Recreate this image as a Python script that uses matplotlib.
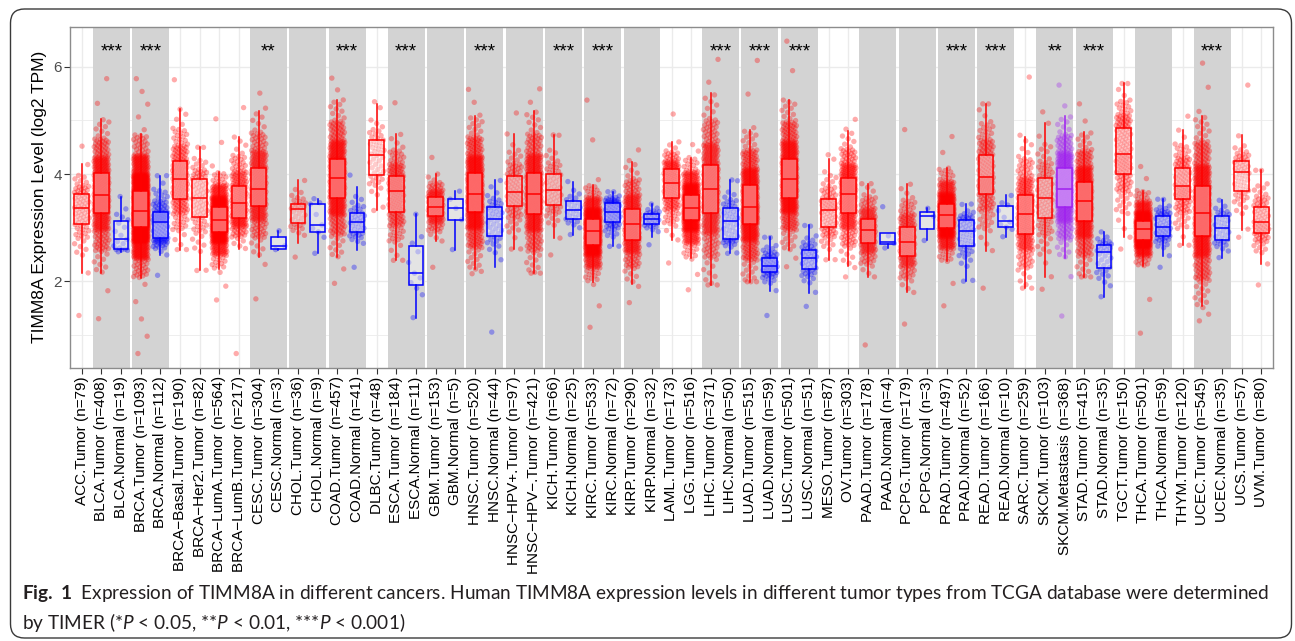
import numpy as np
import matplotlib
matplotlib.use('Agg')
import matplotlib.pyplot as plt
from matplotlib import font_manager
from matplotlib.patches import FancyBboxPatch, Rectangle
from matplotlib.transforms import IdentityTransform

# TIMM8A expression per TCGA group (log2 TPM)
groups = ['ACC.Tumor', 'BLCA.Tumor', 'BLCA.Normal', 'BRCA.Tumor', 'BRCA.Normal',
          'BRCA−Basal.Tumor', 'BRCA−Her2.Tumor', 'BRCA−LumA.Tumor', 'BRCA−LumB.Tumor',
          'CESC.Tumor', 'CESC.Normal', 'CHOL.Tumor', 'CHOL.Normal', 'COAD.Tumor',
          'COAD.Normal', 'DLBC.Tumor', 'ESCA.Tumor', 'ESCA.Normal', 'GBM.Tumor',
          'GBM.Normal', 'HNSC.Tumor', 'HNSC.Normal', 'HNSC−HPV+.Tumor', 'HNSC−HPV−.Tumor',
          'KICH.Tumor', 'KICH.Normal', 'KIRC.Tumor', 'KIRC.Normal', 'KIRP.Tumor',
          'KIRP.Normal', 'LAML.Tumor', 'LGG.Tumor', 'LIHC.Tumor', 'LIHC.Normal',
          'LUAD.Tumor', 'LUAD.Normal', 'LUSC.Tumor', 'LUSC.Normal', 'MESO.Tumor',
          'OV.Tumor', 'PAAD.Tumor', 'PAAD.Normal', 'PCPG.Tumor', 'PCPG.Normal',
          'PRAD.Tumor', 'PRAD.Normal', 'READ.Tumor', 'READ.Normal', 'SARC.Tumor',
          'SKCM.Tumor', 'SKCM.Metastasis', 'STAD.Tumor', 'STAD.Normal', 'TGCT.Tumor',
          'THCA.Tumor', 'THCA.Normal', 'THYM.Tumor', 'UCEC.Tumor', 'UCEC.Normal',
          'UCS.Tumor', 'UVM.Tumor']
n_samples = [79, 408, 19, 1093, 112, 190, 82, 564, 217, 304, 3, 36, 9, 457, 41, 48,
             184, 11, 153, 5, 520, 44, 97, 421, 66, 25, 533, 72, 290, 32, 173, 516,
             371, 50, 515, 59, 501, 51, 87, 303, 178, 4, 179, 3, 497, 52, 166, 10,
             259, 103, 368, 415, 35, 150, 501, 59, 120, 545, 35, 57, 80]

lowest = [1.36, 1.30, 2.55, 0.65, 2.11, 2.59, 2.20, 1.65, 0.65, 1.67, 2.59, 2.45, 2.52,
          1.96, 2.26, 3.32, 2.39, 1.32, 2.26, 2.59, 2.14, 1.05, 2.60, 2.15, 2.49, 2.87,
          1.14, 2.65, 1.60, 2.68, 2.34, 1.84, 1.93, 2.52, 1.99, 1.36, 2.27, 1.53, 2.40,
          2.08, 0.81, 2.62, 1.20, 2.76, 1.54, 2.00, 1.87, 2.83, 1.87, 1.85, 1.35, 2.08,
          1.71, 2.60, 1.03, 2.26, 2.67, 1.26, 2.44, 2.82, 1.93]
whislo = [2.15, 2.15, 2.55, 2.06, 2.49, 2.59, 2.20, 2.23, 2.61, 2.45, 2.59, 2.72, 2.52,
          2.45, 2.59, 3.32, 2.39, 1.32, 2.75, 2.59, 2.23, 2.26, 2.60, 2.15, 2.80, 2.87,
          1.99, 2.65, 1.95, 2.83, 2.77, 2.43, 1.93, 2.52, 1.99, 1.82, 2.59, 1.78, 2.40,
          2.29, 2.08, 2.62, 1.79, 2.76, 2.37, 2.00, 2.57, 2.83, 1.87, 2.08, 2.43, 2.08,
          1.71, 2.82, 2.29, 2.47, 2.67, 1.53, 2.44, 2.96, 2.32]
q1 = [3.07, 3.28, 2.60, 3.02, 2.81, 3.54, 3.20, 2.92, 3.18, 3.41, 2.61, 3.08, 2.92,
      3.56, 2.91, 3.98, 3.30, 1.93, 3.22, 3.15, 3.29, 2.85, 3.41, 3.26, 3.43, 3.16,
      2.68, 3.11, 2.77, 3.07, 3.56, 3.15, 3.28, 2.79, 3.07, 2.17, 3.56, 2.22, 3.01,
      3.27, 2.71, 2.69, 2.47, 2.98, 3.00, 2.65, 3.63, 3.02, 2.88, 3.18, 3.38, 3.12,
      2.24, 4.01, 2.77, 2.85, 3.53, 2.85, 2.76, 3.69, 2.90]
median = [3.36, 3.61, 2.78, 3.31, 3.10, 3.91, 3.55, 3.15, 3.46, 3.73, 2.66, 3.34, 3.05,
          3.93, 3.11, 4.36, 3.68, 2.15, 3.39, 3.36, 3.63, 3.17, 3.67, 3.63, 3.70, 3.32,
          2.93, 3.29, 3.07, 3.16, 3.84, 3.36, 3.73, 3.13, 3.38, 2.29, 3.91, 2.43, 3.32,
          3.63, 2.96, 2.74, 2.73, 3.21, 3.23, 2.93, 3.94, 3.13, 3.26, 3.56, 3.73, 3.49,
          2.54, 4.37, 2.97, 3.01, 3.78, 3.28, 3.00, 4.04, 3.10]
q3 = [3.62, 4.02, 3.12, 3.68, 3.29, 4.25, 3.91, 3.38, 3.78, 4.12, 2.82, 3.44, 3.44,
      4.29, 3.27, 4.64, 3.96, 2.65, 3.57, 3.53, 4.02, 3.38, 3.97, 4.02, 4.00, 3.49,
      3.16, 3.46, 3.35, 3.25, 4.09, 3.61, 4.17, 3.37, 3.79, 2.44, 4.28, 2.59, 3.53,
      3.92, 3.17, 2.90, 3.02, 3.29, 3.44, 3.14, 4.36, 3.41, 3.61, 3.92, 4.11, 3.86,
      2.67, 4.86, 3.13, 3.22, 4.11, 3.77, 3.22, 4.25, 3.38]
whishi = [4.18, 5.03, 3.58, 4.74, 3.97, 5.21, 4.50, 4.04, 4.69, 5.17, 2.94, 3.88, 3.54,
          5.39, 3.76, 5.30, 4.74, 3.25, 4.00, 3.68, 5.08, 3.88, 4.75, 5.17, 4.73, 3.86,
          3.80, 3.67, 4.22, 3.44, 4.60, 4.30, 5.51, 3.89, 4.83, 2.82, 5.38, 3.04, 4.28,
          4.80, 3.82, 2.90, 3.81, 3.36, 4.11, 3.44, 5.31, 3.60, 4.69, 4.95, 5.09, 4.78,
          2.92, 5.69, 3.69, 3.53, 4.82, 5.09, 3.51, 4.72, 4.07]
highest = [4.52, 5.78, 3.58, 5.78, 3.97, 5.76, 4.50, 5.03, 5.24, 5.51, 2.94, 3.88, 3.54,
           5.79, 3.98, 5.35, 5.33, 3.25, 4.31, 3.68, 5.58, 3.88, 5.14, 5.59, 4.73, 3.86,
           5.38, 3.67, 4.45, 3.44, 5.12, 4.55, 6.14, 3.89, 6.12, 2.82, 6.48, 3.04, 4.36,
           5.02, 3.82, 3.39, 4.83, 3.36, 4.70, 3.44, 5.31, 3.60, 5.81, 5.16, 5.66, 5.31,
           2.92, 5.69, 4.14, 3.53, 5.08, 6.07, 3.51, 5.66, 4.07]

# tumor/normal pairs that get a grey band, and their significance marks
band_start = ['BLCA.Tumor', 'BRCA.Tumor', 'CESC.Tumor', 'CHOL.Tumor', 'COAD.Tumor',
              'ESCA.Tumor', 'GBM.Tumor', 'HNSC.Tumor', 'HNSC−HPV+.Tumor', 'KICH.Tumor',
              'KIRC.Tumor', 'KIRP.Tumor', 'LIHC.Tumor', 'LUAD.Tumor', 'LUSC.Tumor',
              'PAAD.Tumor', 'PCPG.Tumor', 'PRAD.Tumor', 'READ.Tumor', 'SKCM.Tumor',
              'STAD.Tumor', 'THCA.Tumor', 'UCEC.Tumor']
signif_pair = ['BLCA', 'BRCA', 'CESC', 'COAD', 'ESCA', 'HNSC', 'KICH', 'KIRC', 'LIHC',
               'LUAD', 'LUSC', 'PRAD', 'READ', 'SKCM', 'STAD', 'UCEC']
signif_mark = ['***', '***', '**', '***', '***', '***', '***', '***', '***',
               '***', '***', '***', '***', '**', '***', '***']

type_colors = {'Tumor': '#FF0000', 'Normal': '#0000FF', 'Metastasis': '#A020F0'}

font_names = {f.name for f in font_manager.fontManager.ttflist}
cap_font = 'Lato' if 'Lato' in font_names else 'Liberation Sans'
plt.rcParams['font.family'] = ['Liberation Sans', 'DejaVu Sans']
plt.rcParams['mathtext.fontset'] = 'custom'
plt.rcParams['mathtext.rm'] = cap_font
plt.rcParams['mathtext.it'] = cap_font + ':italic'
plt.rcParams['mathtext.bf'] = cap_font + ':bold'

W, H = 1295, 641
fig = plt.figure(figsize=(W / 100, H / 100), dpi=100)
ax = fig.add_axes([70 / W, 1 - 368 / H, 1203 / W, 341.3 / H])

# grid first, bands over it
ax.set_xlim(0.4, 61.6)
ax.set_ylim(0.38, 6.75)
ax.set_yticks([2, 4, 6])
ax.set_yticks([1, 3, 5], minor=True)
ax.set_xticks(np.arange(1, 62))
ax.grid(True, which='major', color='#EBEBEB', lw=1.0, zorder=0)
ax.grid(True, which='minor', axis='y', color='#EBEBEB', lw=0.6, zorder=0)
ax.set_axisbelow(True)

for g in band_start:
    i = groups.index(g) + 1
    ax.add_patch(Rectangle((i - 0.44, 0.38), 1.88, 6.37, facecolor='#D3D3D3',
                           edgecolor='none', zorder=0.8))


def sample_values(k):
    # spread n values over the quantiles of the box summary, thinning toward the whiskers
    n = n_samples[k]
    t = min(max(1.0 / n, 0.004), 0.02)
    a_lo = q1[k] - whislo[k]
    a_hi = whishi[k] - q3[k]
    kp = [0, t, 0.025, 0.10, 0.25, 0.5, 0.75, 0.90, 0.975, 1 - t, 1]
    kv = [lowest[k], whislo[k], q1[k] - 0.635 * a_lo, q1[k] - 0.30 * a_lo, q1[k],
          median[k], q3[k], q3[k] + 0.30 * a_hi, q3[k] + 0.635 * a_hi, whishi[k],
          highest[k]]
    return np.interp(np.linspace(0, 1, n), kp, kv)


golden = 0.6180339887
for k, g in enumerate(groups):
    pos = k + 1
    col = type_colors[g.split('.')[1]]
    n = n_samples[k]
    y = sample_values(k)
    x = pos + (np.modf(np.arange(n) * golden + 0.31)[0] - 0.5) * 0.76
    ax.scatter(x, y, s=15, color=col, alpha=0.33, edgecolors='none', zorder=2)

    stats = [dict(med=median[k], q1=q1[k], q3=q3[k], whislo=whislo[k],
                  whishi=whishi[k], fliers=[])]
    ax.bxp(stats, positions=[pos], widths=0.75, patch_artist=True,
           showfliers=False, showcaps=False, manage_ticks=False,
           boxprops=dict(facecolor=(1, 1, 1, 0.4), edgecolor=col, lw=1.1),
           whiskerprops=dict(color=col, lw=1.1),
           medianprops=dict(color=col, lw=1.1), zorder=3)

for c, m in zip(signif_pair, signif_mark):
    i = groups.index(c + '.Tumor') + 1
    ax.text(i + 0.5, 6.2, m, ha='center', va='baseline', fontsize=13.5, color='black')

ax.set_xticklabels([f'{g} (n={n})' for g, n in zip(groups, n_samples)],
                   rotation=90, fontsize=11, color='black')
ax.tick_params(axis='x', length=4, width=0.8, color='#333333', pad=2)
ax.tick_params(axis='y', which='major', length=4, width=0.8, color='#333333',
               pad=2, labelsize=11, labelcolor='#4D4D4D')
ax.tick_params(axis='y', which='minor', length=0)
for sp in ax.spines.values():
    sp.set_color('#8C8C8C')
    sp.set_linewidth(1.0)
ax.set_ylabel('TIMM8A Expression Level (log2 TPM)', fontsize=12.5, color='black')
ax.yaxis.set_label_coords(-0.0195, 0.5)

# caption and rounded frame
line1 = (r'$\mathbf{Fig.\ 1}$  Expression of TIMM8A in different cancers. Human TIMM8A '
         'expression levels in different tumor types from TCGA database were determined')
line2 = r'by TIMER (*$\mathit{P}$ < 0.05, **$\mathit{P}$ < 0.01, ***$\mathit{P}$ < 0.001)'
cap1 = fig.text(22 / W, 1 - 594 / H, line1, fontsize=12, family=cap_font,
                va='center', ha='left', color='#231F20')
cap2 = fig.text(22 / W, 1 - 622 / H, line2, fontsize=12, family=cap_font,
                va='center', ha='left', color='#231F20')
r = fig.canvas.get_renderer()
w = cap1.get_window_extent(r).width
size = 12 * 1246 / w
cap1.set_fontsize(size)
cap2.set_fontsize(size)

frame = FancyBboxPatch((10.5, 3), 1281, 629, boxstyle='round,pad=0,rounding_size=14',
                       fill=False, edgecolor='#3A3A3A', lw=1.0,
                       transform=IdentityTransform())
fig.add_artist(frame)

fig.savefig('out.png', dpi=100)
